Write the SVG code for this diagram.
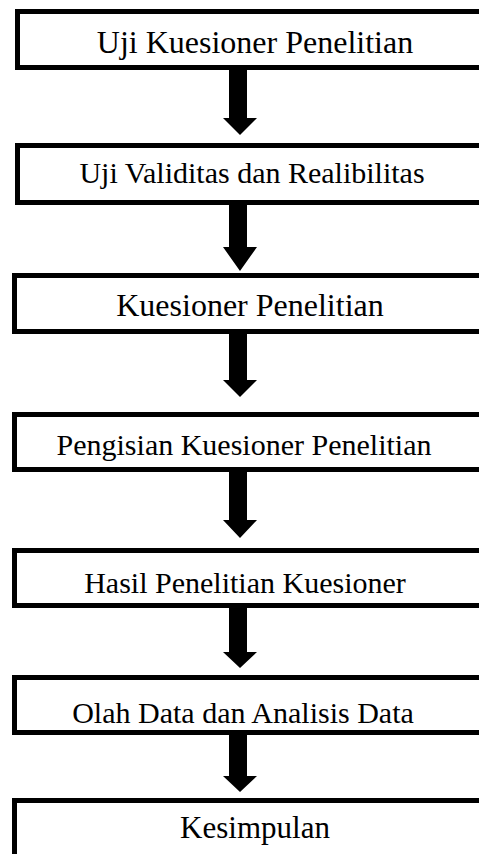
<svg xmlns="http://www.w3.org/2000/svg" width="479" height="854" viewBox="0 0 479 854">
<style>
.box{fill:#fff;stroke:#000;stroke-width:5}
.t{font-family:"Liberation Serif","Times New Roman",serif;font-size:30px;fill:#000;text-anchor:middle}
.big{font-size:32px}
.arr{fill:#000}
</style>
<rect width="479" height="854" fill="#fff"/>
<g id="n1"><rect class="box" x="17.5" y="11.5" width="480" height="56"/><text class="t big" x="255" y="53">Uji Kuesioner Penelitian</text></g>
<g id="n2"><rect class="box" x="17.5" y="145.5" width="480" height="57"/><text class="t" x="252" y="183">Uji Validitas dan Realibilitas</text></g>
<g id="n3"><rect class="box" x="14.5" y="275.5" width="480" height="56"/><text class="t big" x="250" y="316">Kuesioner Penelitian</text></g>
<g id="n4"><rect class="box" x="14.5" y="414.5" width="480" height="55"/><text class="t" x="244" y="455">Pengisian Kuesioner Penelitian</text></g>
<g id="n5"><rect class="box" x="14.5" y="550.5" width="480" height="55"/><text class="t" x="245" y="593">Hasil Penelitian Kuesioner</text></g>
<g id="n6"><rect class="box" x="14.5" y="677.5" width="480" height="55"/><text class="t" x="243" y="723">Olah Data dan Analisis Data</text></g>
<g id="n7"><rect class="box" x="14.5" y="800.5" width="480" height="80"/><text class="t" style="font-size:31px" x="255" y="838">Kesimpulan</text></g>
<g id="connectors">
<path class="arr" d="M229,70 H247 V118 H257 L240,135 L223,118 H229 Z"/>
<path class="arr" d="M229,204 H247 V247 H257 L240,271 L223,247 H229 Z"/>
<path class="arr" d="M229,333 H247 V380 H257 L240,397 L223,380 H229 Z"/>
<path class="arr" d="M229,471 H247 V520 H257 L240,538 L223,520 H229 Z"/>
<path class="arr" d="M229,607 H247 V652 H257 L240,668 L223,652 H229 Z"/>
<path class="arr" d="M229,734 H247 V776 H257 L240,792 L223,776 H229 Z"/>
</g>
</svg>
